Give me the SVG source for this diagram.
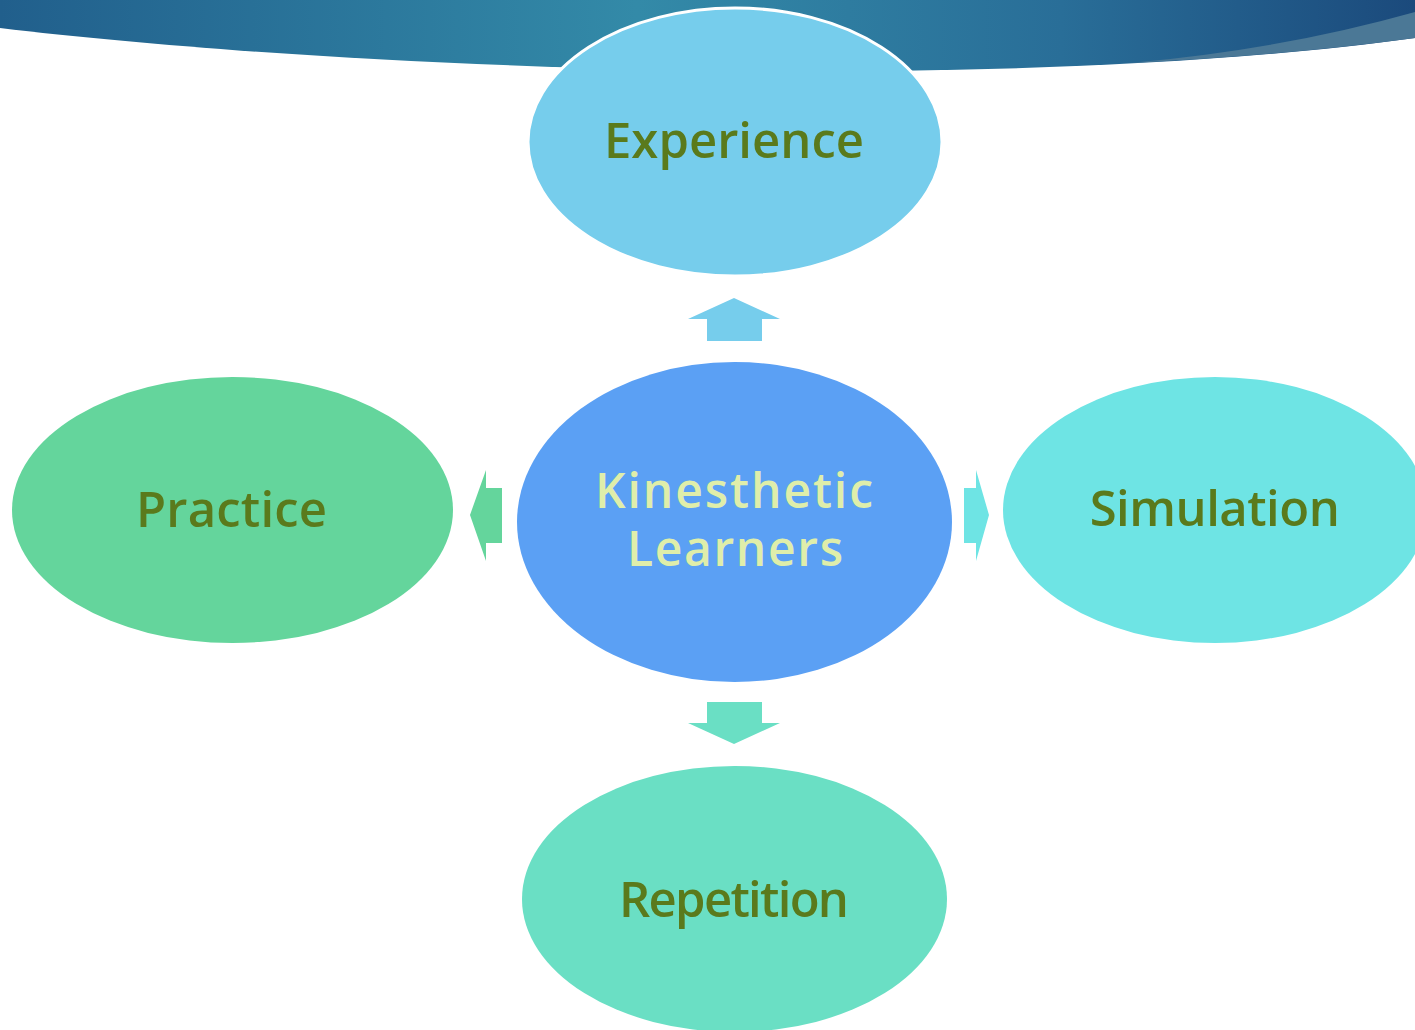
<svg xmlns="http://www.w3.org/2000/svg" width="1415" height="1030" viewBox="0 0 1415 1030">
  <defs>
    <linearGradient id="band" x1="0" y1="0" x2="1" y2="0">
      <stop offset="0" stop-color="#215f8c"/>
      <stop offset="0.45" stop-color="#338aa8"/>
      <stop offset="0.75" stop-color="#296e98"/>
      <stop offset="1" stop-color="#1b4a7c"/>
    </linearGradient>
    <style>
      .lbl { font-family: "Open Sans", "DejaVu Sans", sans-serif; font-size: 49px; font-weight: 600; fill: #5a7a1c; text-anchor: middle; }
      .core { font-family: "Open Sans", "DejaVu Sans", sans-serif; font-size: 48px; font-weight: 600; fill: #dfeeaa; text-anchor: middle; }
    </style>
  </defs>

  <rect width="1415" height="1030" fill="#ffffff"/>

  <!-- header band -->
  <g id="header">
    <path d="M0,0 H1415 V38 C1000,95 350,70 0,28 Z" fill="url(#band)"/>
    <path d="M1130,63 Q1280,50 1415,12 V38 Q1280,56 1130,63 Z" fill="#4b7896"/>
  </g>

  <!-- connectors -->
  <g id="connectors">
    <polygon points="734,298 780,319 762,319 762,341 707,341 707,319 688,319" fill="#76cdec"/>
    <polygon points="470,515 486,470 486,488 502,488 502,543 486,543 486,561" fill="#64d59c"/>
    <polygon points="989,515 976,470 976,488 964,488 964,543 976,543 976,561" fill="#6ee4e4"/>
    <polygon points="734,744 780,723 762,723 762,702 707,702 707,723 688,723" fill="#6adfc4"/>
  </g>

  <g id="node-experience">
    <ellipse cx="735" cy="142" rx="207" ry="134" fill="#76cdec" stroke="#ffffff" stroke-width="3"/>
    <text class="lbl" x="734" y="158" textLength="260" lengthAdjust="spacing">Experience</text>
  </g>

  <g id="node-center">
    <ellipse cx="734.5" cy="522" rx="217.5" ry="160" fill="#5ba0f4"/>
    <text class="core" x="734" y="508" textLength="278" lengthAdjust="spacing">Kinesthetic</text>
    <text class="core" x="735" y="566" textLength="216" lengthAdjust="spacing">Learners</text>
  </g>

  <g id="node-practice">
    <ellipse cx="232.5" cy="510" rx="220.5" ry="133" fill="#64d59c"/>
    <text class="lbl" x="231.5" y="527" textLength="191" lengthAdjust="spacing">Practice</text>
  </g>

  <g id="node-simulation">
    <ellipse cx="1215" cy="510" rx="212" ry="133" fill="#6ee4e4"/>
    <text class="lbl" x="1214.5" y="526" font-size="43" letter-spacing="-0.5">Simulation</text>
  </g>

  <g id="node-repetition">
    <ellipse cx="734.5" cy="899" rx="212.5" ry="133" fill="#6adfc4"/>
    <text class="lbl" x="734" y="917" textLength="230" lengthAdjust="spacing">Repetition</text>
  </g>
</svg>
